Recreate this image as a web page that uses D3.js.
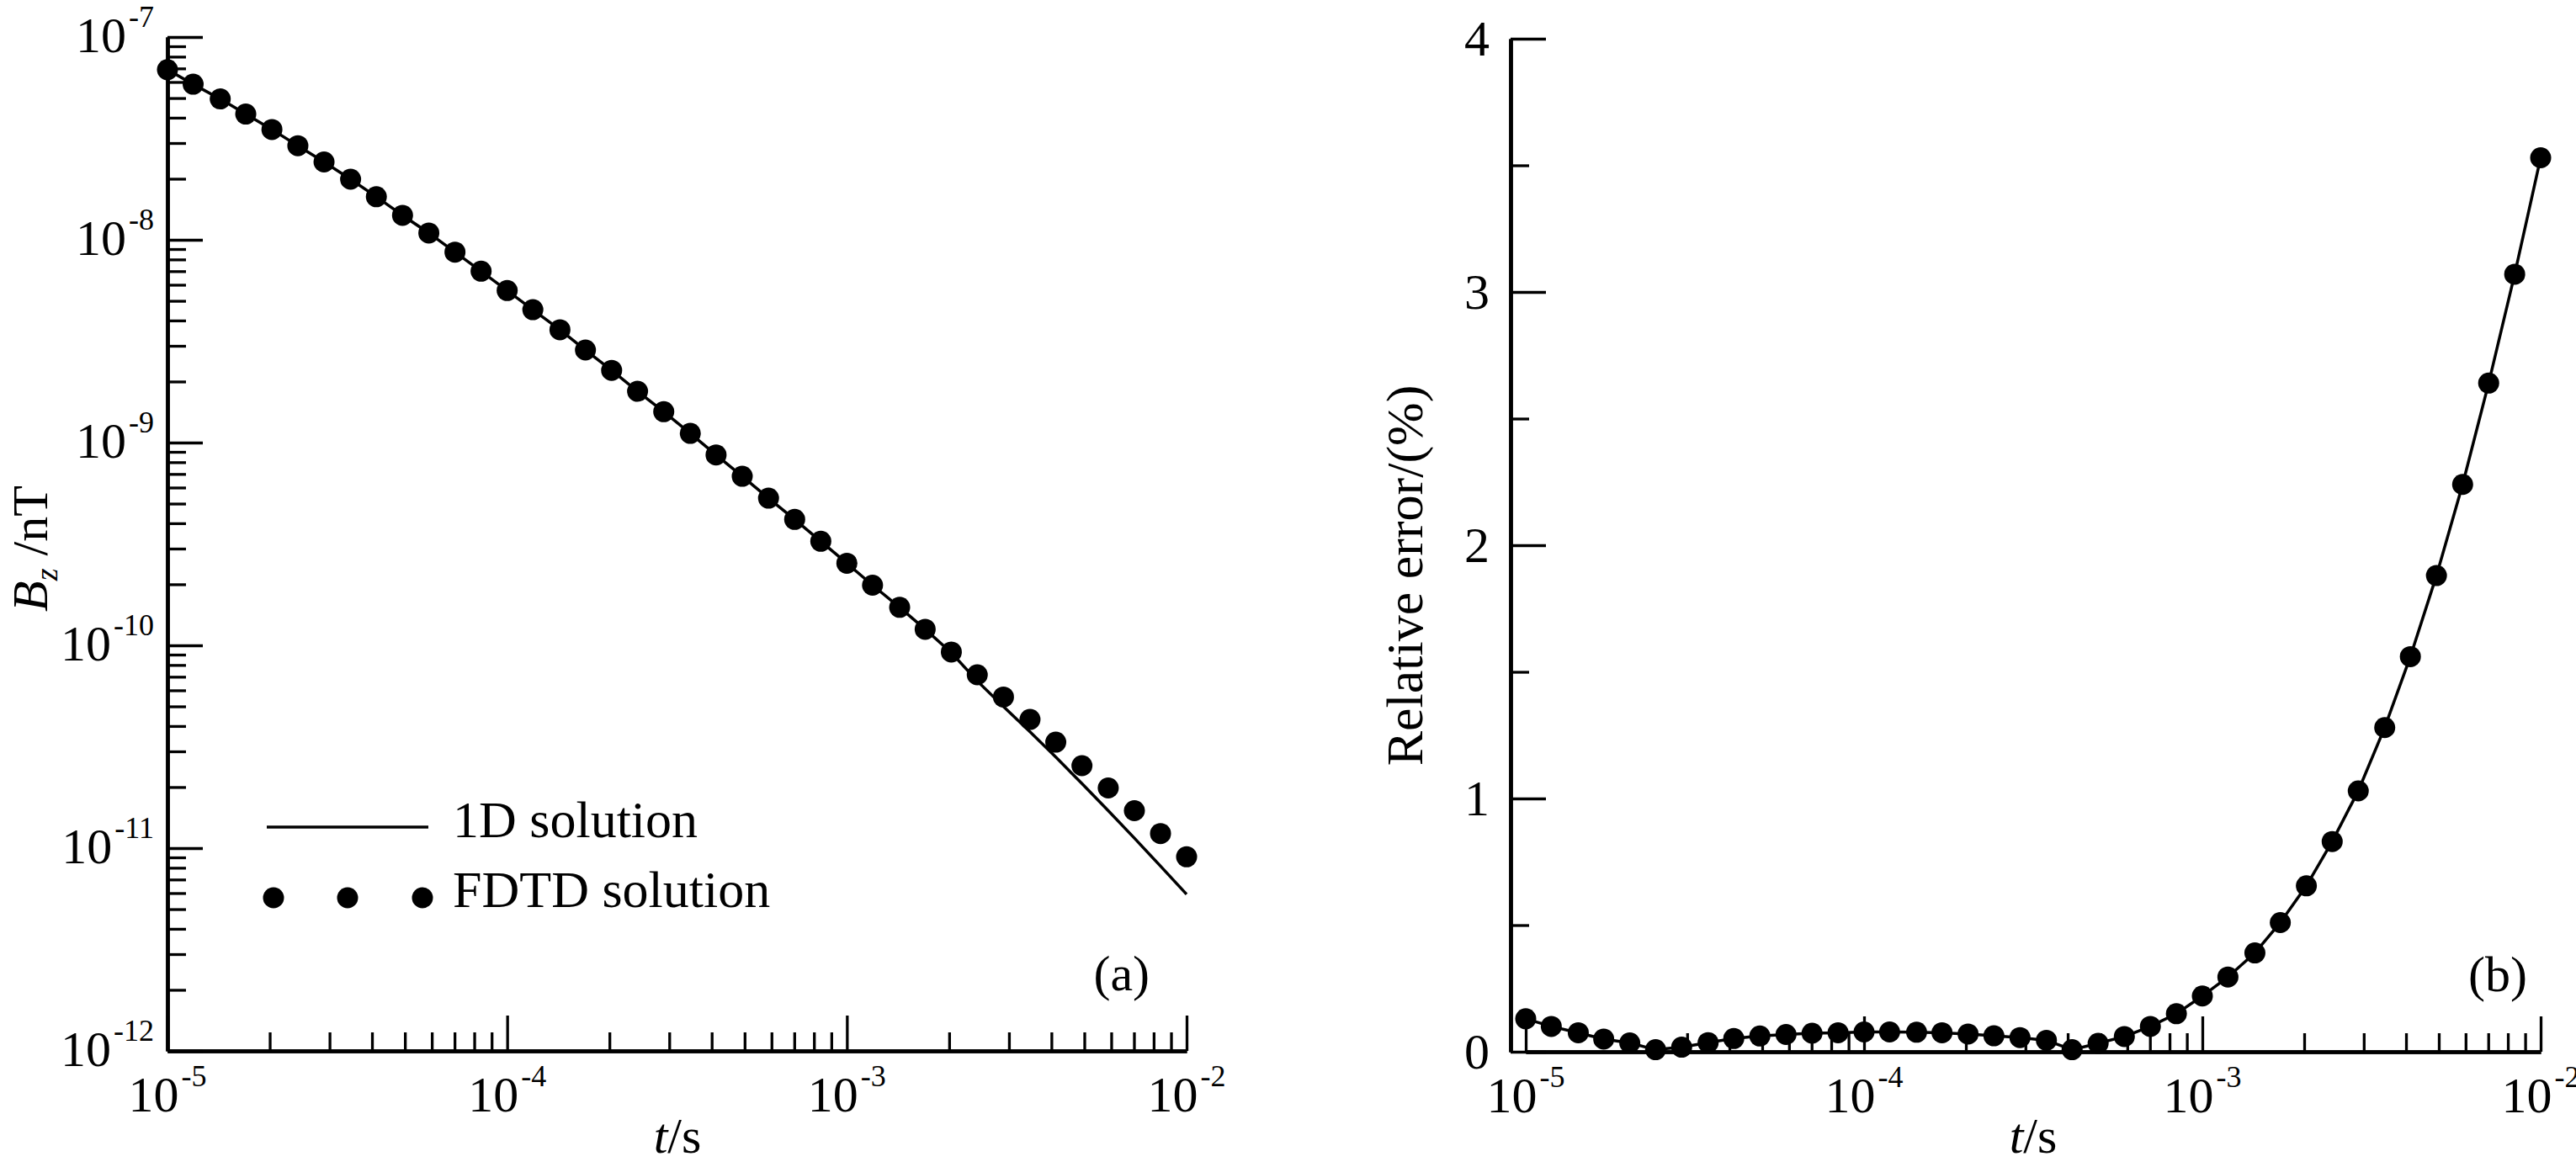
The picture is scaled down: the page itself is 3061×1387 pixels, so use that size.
<!DOCTYPE html>
<html>
<head>
<meta charset="utf-8">
<script src="https://cdn.jsdelivr.net/npm/d3@7"></script>
<style>
  body { margin: 0; background: #fff; }
  text { font-family: "Liberation Serif", "Times New Roman", serif; fill: #000; }
</style>
</head>
<body>
<svg id="lienzo" width="3061" height="1387"></svg>
<script>
// tiempos de muestreo (s)
const tiempo = [
  1.00e-5, 1.19e-5, 1.43e-5, 1.70e-5, 2.03e-5, 2.42e-5, 2.89e-5, 3.46e-5, 4.12e-5, 4.92e-5, 5.88e-5, 7.02e-5, 8.38e-5,
  1.00e-4, 1.19e-4, 1.43e-4, 1.70e-4, 2.03e-4, 2.42e-4, 2.89e-4, 3.46e-4, 4.12e-4, 4.92e-4, 5.88e-4, 7.02e-4, 8.38e-4,
  1.00e-3, 1.19e-3, 1.43e-3, 1.70e-3, 2.03e-3, 2.42e-3, 2.89e-3, 3.46e-3, 4.12e-3, 4.92e-3, 5.88e-3, 7.02e-3, 8.38e-3,
  1.00e-2
];
// Bz FDTD (nT)
const bzFDTD = [
  6.90e-8, 5.85e-8, 4.95e-8, 4.17e-8, 3.50e-8, 2.91e-8, 2.42e-8, 1.99e-8, 1.63e-8, 1.32e-8, 1.08e-8, 8.69e-9, 7.00e-9,
  5.62e-9, 4.52e-9, 3.60e-9, 2.86e-9, 2.27e-9, 1.79e-9, 1.42e-9, 1.11e-9, 8.69e-10, 6.82e-10, 5.32e-10, 4.18e-10, 3.26e-10,
  2.54e-10, 1.98e-10, 1.54e-10, 1.20e-10, 9.27e-11, 7.16e-11, 5.56e-11, 4.31e-11, 3.33e-11, 2.55e-11, 1.98e-11, 1.53e-11, 1.18e-11,
  9.06e-12
];
// Bz solucion 1D (nT)
const bz1D = [
  6.90e-8, 5.85e-8, 4.95e-8, 4.17e-8, 3.50e-8, 2.91e-8, 2.42e-8, 1.99e-8, 1.63e-8, 1.32e-8, 1.08e-8, 8.69e-9, 7.00e-9,
  5.62e-9, 4.52e-9, 3.60e-9, 2.86e-9, 2.27e-9, 1.79e-9, 1.42e-9, 1.11e-9, 8.69e-10, 6.82e-10, 5.32e-10, 4.18e-10, 3.26e-10,
  2.54e-10, 1.98e-10, 1.54e-10, 1.20e-10, 9.20e-11, 6.67e-11, 4.99e-11, 3.75e-11, 2.81e-11, 2.08e-11, 1.53e-11, 1.12e-11, 8.15e-12,
  5.92e-12
];
// error relativo (%)
const errorRel = [
  0.13, 0.10, 0.075, 0.05, 0.035, 0.008, 0.018, 0.036, 0.052, 0.062, 0.068, 0.073, 0.075,
  0.078, 0.078, 0.077, 0.075, 0.07, 0.063, 0.056, 0.045, 0.008, 0.033, 0.06, 0.10, 0.15,
  0.22, 0.295, 0.39, 0.51, 0.655, 0.83, 1.03, 1.28, 1.56, 1.88, 2.24, 2.64, 3.07,
  3.53
];

const decadasT = [1e-5, 1e-4, 1e-3, 1e-2];
const expT = ["-5", "-4", "-3", "-2"];
const decadasBz = [1e-7, 1e-8, 1e-9, 1e-10, 1e-11, 1e-12];
const expBz = ["-7", "-8", "-9", "-10", "-11", "-12"];
const ticksError = [0, 1, 2, 3, 4];
const etiquetasError = ["0", "1", "2", "3", "4"];
const ticksErrorMenor = [0.5, 1.5, 2.5, 3.5];
const leyenda = ["1D solution", "FDTD solution"];

// ticks menores log (2..9 por decada)
const menoresLog = (desde, hasta) => {
  const out = [];
  for (let k = desde; k < hasta; k++) {
    for (let m = 2; m <= 9; m++) out.push(m * Math.pow(10, k));
  }
  return out;
};

const svg = d3.select("#lienzo");
svg.append("rect").attr("width", 3061).attr("height", 1387).attr("fill", "#fff");

const MAYOR = 42, MENOR = 22;

// escribe 10^exp
const potencia = (g, x, y, exp, anchor) => {
  const t = g.append("text")
    .attr("x", x).attr("y", y)
    .attr("text-anchor", anchor)
    .style("font-size", "60px");
  t.append("tspan").text("10");
  t.append("tspan").attr("dx", 3).attr("dy", -30).style("font-size", "36px").text(exp);
};

const estiloEje = (g) => {
  g.select(".domain").attr("stroke", "#000").attr("stroke-width", 4.5);
  g.selectAll(".tick line").attr("stroke", "#000").attr("stroke-width", 3.3);
  g.selectAll(".tick text").remove();
};

// ---------------- panel (a) ----------------
const xA = d3.scaleLog().domain([1e-5, 1e-2]).range([199, 1410]);
const yA = d3.scaleLog().domain([1e-12, 1e-7]).range([1249, 44]);
const gA = svg.append("g");

gA.append("g").attr("transform", "translate(0,1249)")
  .call(d3.axisBottom(xA).tickValues(decadasT).tickSize(-MAYOR).tickSizeOuter(0).tickFormat(""))
  .call(estiloEje);
gA.append("g").attr("transform", "translate(0,1249)")
  .call(d3.axisBottom(xA).tickValues(menoresLog(-5, -2)).tickSize(-MENOR).tickSizeOuter(0).tickFormat(""))
  .call(estiloEje);
gA.append("g").attr("transform", "translate(199,0)")
  .call(d3.axisLeft(yA).tickValues(decadasBz).tickSize(-MAYOR).tickSizeOuter(0).tickFormat(""))
  .call(estiloEje);
gA.append("g").attr("transform", "translate(199,0)")
  .call(d3.axisLeft(yA).tickValues(menoresLog(-12, -7)).tickSize(-MENOR).tickSizeOuter(0).tickFormat(""))
  .call(estiloEje);

decadasT.forEach((d, i) => potencia(gA, xA(d), 1321, expT[i], "middle"));
decadasBz.forEach((d, i) => potencia(gA, 183, yA(d) + 18, expBz[i], "end"));

// linea 1D
gA.append("path")
  .datum(tiempo.map((t, i) => [t, bz1D[i]]))
  .attr("fill", "none").attr("stroke", "#000").attr("stroke-width", 3.5)
  .attr("d", d3.line().x(d => xA(d[0])).y(d => yA(d[1])));

// puntos FDTD
gA.append("g").selectAll("circle")
  .data(tiempo.map((t, i) => [t, bzFDTD[i]]))
  .enter().append("circle")
  .attr("cx", d => xA(d[0])).attr("cy", d => yA(d[1]))
  .attr("r", 12.5).attr("fill", "#000");

// etiquetas de ejes
const ylabA = gA.append("text")
  .attr("transform", "translate(56,652) rotate(-90)")
  .attr("text-anchor", "middle")
  .style("font-size", "60px");
ylabA.append("tspan").style("font-style", "italic").text("B");
ylabA.append("tspan").style("font-style", "italic").style("font-size", "38px").attr("dy", 12).text("z");
ylabA.append("tspan").attr("dy", -12).text(" /nT");

const xlabA = gA.append("text").attr("x", 805).attr("y", 1370)
  .attr("text-anchor", "middle").style("font-size", "60px");
xlabA.append("tspan").style("font-style", "italic").text("t");
xlabA.append("tspan").text("/s");

// leyenda
gA.append("line").attr("x1", 317).attr("x2", 509).attr("y1", 983).attr("y2", 983)
  .attr("stroke", "#000").attr("stroke-width", 3.5);
gA.append("text").attr("x", 538).attr("y", 995).style("font-size", "62px").text(leyenda[0]);
gA.append("g").selectAll("circle").data([325, 413, 502]).enter().append("circle")
  .attr("cx", d => d).attr("cy", 1067).attr("r", 12.5).attr("fill", "#000");
gA.append("text").attr("x", 538).attr("y", 1078).style("font-size", "62px").text(leyenda[1]);

gA.append("text").attr("x", 1366).attr("y", 1177).attr("text-anchor", "end")
  .style("font-size", "60px").text("(a)");

// ---------------- panel (b) ----------------
const xB = d3.scaleLog().domain([1e-5, 1e-2]).range([1813, 3019]);
const yB = d3.scaleLinear().domain([0, 4]).range([1250, 46]);
const gB = svg.append("g");

gB.append("g").attr("transform", "translate(0,1250)")
  .call(d3.axisBottom(xB).tickValues(decadasT).tickSize(-MAYOR).tickSizeOuter(0).tickFormat(""))
  .call(estiloEje);
gB.append("g").attr("transform", "translate(0,1250)")
  .call(d3.axisBottom(xB).tickValues(menoresLog(-5, -2)).tickSize(-MENOR).tickSizeOuter(0).tickFormat(""))
  .call(estiloEje);
gB.append("g").attr("transform", "translate(1795,0)")
  .call(d3.axisLeft(yB).tickValues(ticksError).tickSize(-MAYOR).tickSizeOuter(0).tickFormat(""))
  .call(estiloEje);
gB.append("g").attr("transform", "translate(1795,0)")
  .call(d3.axisLeft(yB).tickValues(ticksErrorMenor).tickSize(-MENOR).tickSizeOuter(0).tickFormat(""))
  .call(estiloEje);

decadasT.forEach((d, i) => potencia(gB, xB(d), 1322, expT[i], "middle"));
gB.selectAll(".etqErr").data(ticksError).enter().append("text")
  .attr("x", 1770).attr("y", d => yB(d) + 20)
  .attr("text-anchor", "end").style("font-size", "60px")
  .text((d, i) => etiquetasError[i]);

gB.append("path")
  .datum(tiempo.map((t, i) => [t, errorRel[i]]))
  .attr("fill", "none").attr("stroke", "#000").attr("stroke-width", 3.5)
  .attr("d", d3.line().x(d => xB(d[0])).y(d => yB(d[1])));

gB.append("g").selectAll("circle")
  .data(tiempo.map((t, i) => [t, errorRel[i]]))
  .enter().append("circle")
  .attr("cx", d => xB(d[0])).attr("cy", d => yB(d[1]))
  .attr("r", 12.5).attr("fill", "#000");

gB.append("text")
  .attr("transform", "translate(1690,684) rotate(-90)")
  .attr("text-anchor", "middle")
  .style("font-size", "62px")
  .text("Relative error/(%)");

const xlabB = gB.append("text").attr("x", 2416).attr("y", 1370)
  .attr("text-anchor", "middle").style("font-size", "60px");
xlabB.append("tspan").style("font-style", "italic").text("t");
xlabB.append("tspan").text("/s");

gB.append("text").attr("x", 3003).attr("y", 1178).attr("text-anchor", "end")
  .style("font-size", "60px").text("(b)");
</script>
</body>
</html>
